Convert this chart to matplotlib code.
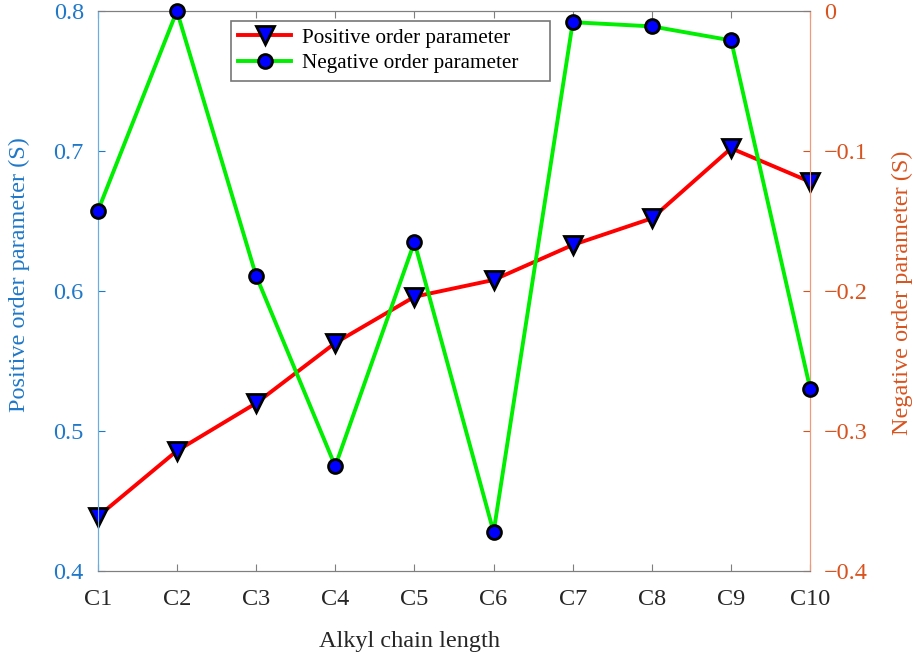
import matplotlib.pyplot as plt

plt.rcParams['font.family'] = ['Liberation Serif', 'DejaVu Serif']

categories = ['C1', 'C2', 'C3', 'C4', 'C5', 'C6', 'C7', 'C8', 'C9', 'C10']
positive = [0.439, 0.486, 0.520, 0.563, 0.596, 0.608, 0.633, 0.652, 0.702, 0.678]
negative = [-0.143, 0.0, -0.189, -0.325, -0.165, -0.372, -0.008, -0.011, -0.021, -0.270]
left_ticks = [0.4, 0.5, 0.6, 0.7, 0.8]
right_ticks = [-0.4, -0.3, -0.2, -0.1, 0]

blue = '#1f78c8'
orange = '#d9531e'
gray = '#7f7f7f'

fig = plt.figure(figsize=(9.16, 6.58), dpi=100)
ax = fig.add_axes([0.1067, 0.1318, 0.7779, 0.8515])
ax2 = ax.twinx()

x = list(range(1, len(categories) + 1))

l1, = ax.plot(x, positive, color='red', lw=2.8, marker='v', markersize=12.5,
              markerfacecolor='blue', markeredgecolor='black', markeredgewidth=2,
              label='Positive order parameter', zorder=3, clip_on=False)
l2, = ax2.plot(x, negative, color='#00ee00', lw=2.8, marker='o', markersize=10,
               markerfacecolor='blue', markeredgecolor='black', markeredgewidth=2,
               label='Negative order parameter', zorder=3, clip_on=False)

ax.set_xlim(1, 10)
ax.set_ylim(0.4, 0.8)
ax2.set_ylim(-0.4, 0)
ax.set_xticks(x)
ax.set_xticklabels(categories)
ax.set_yticks(left_ticks)
ax.set_yticklabels([f'{v:g}' for v in left_ticks])
ax2.set_yticks(right_ticks)
ax2.set_yticklabels([f'{v:g}'.replace('-', '\u2212') for v in right_ticks])

ax.tick_params(axis='x', direction='in', top=True, length=5, color=gray,
               labelsize=17.5, pad=13, labelcolor='#262626')
ax.tick_params(axis='y', direction='in', length=5, color=blue,
               labelsize=17.5, labelcolor=blue, pad=10)
ax2.tick_params(axis='y', direction='in', length=5, color=orange,
                labelsize=17.5, labelcolor=orange, pad=10)

for a in (ax, ax2):
    a.spines['top'].set_color(gray)
    a.spines['bottom'].set_color(gray)
    a.spines['left'].set_color('#6aaee0')
    a.spines['right'].set_color('#f09a78')

ax.set_xlabel('Alkyl chain length', fontsize=17.5, color='#262626', va='center')
ax.xaxis.set_label_coords(0.438, -0.1256)
ax.set_ylabel('Positive order parameter (S)', fontsize=17.5, color=blue, va='center')
ax.yaxis.set_label_coords(-0.110, 0.529)
ax2.set_ylabel('Negative order parameter (S)', fontsize=17.5, color=orange,
               rotation=90, va='center')
ax2.yaxis.set_label_coords(1.1287, 0.497)

# legend box stretched to the width seen in the reference
leg = ax.legend(handles=[l1, l2], loc='upper left',
                bbox_to_anchor=(0.187, 0.876, 0.448, 0.107), mode='expand',
                borderaxespad=0, fontsize=15.2, frameon=True, fancybox=False,
                handlelength=2.5, handletextpad=0.5, borderpad=0.35, labelspacing=0.28)
leg.get_frame().set_edgecolor('#555555')
leg.get_frame().set_linewidth(1.2)

fig.savefig('out.png', dpi=100)
